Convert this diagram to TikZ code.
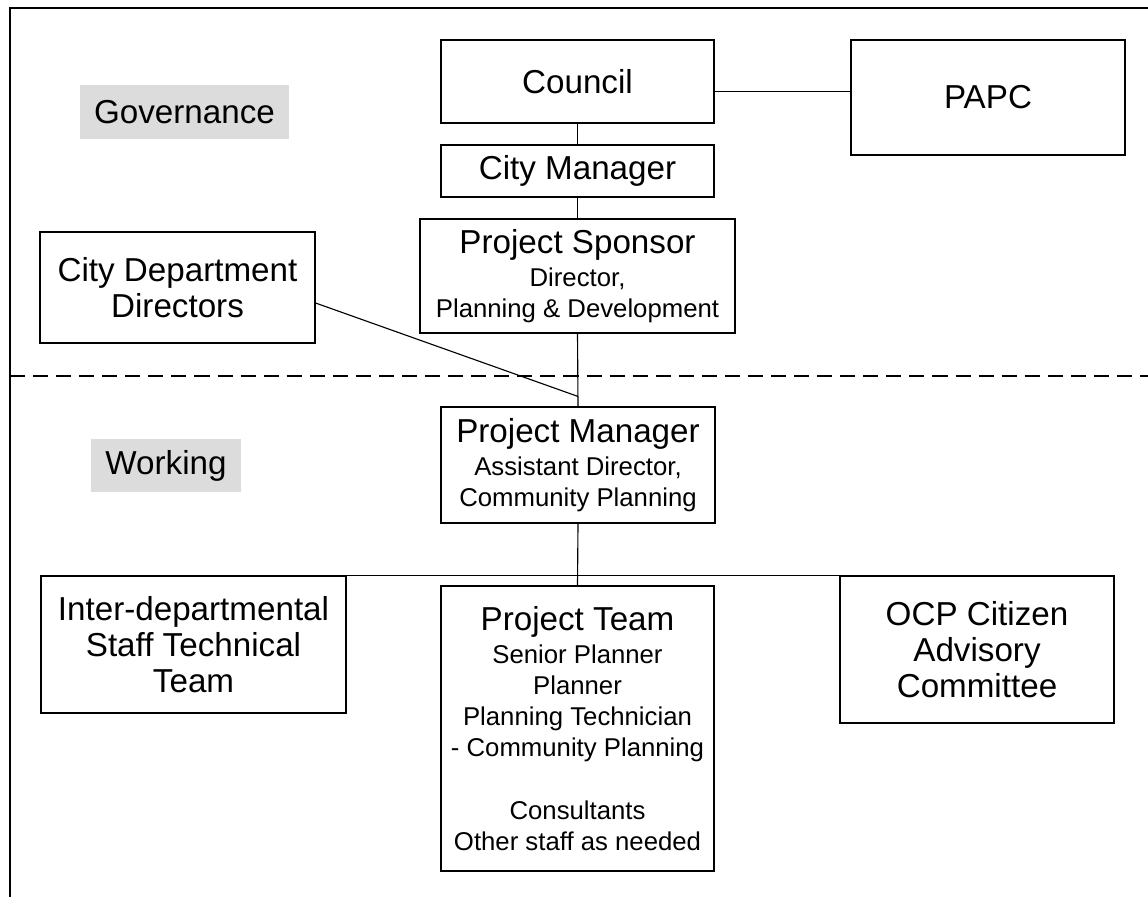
\documentclass[tikz,border=0pt]{standalone}
\usepackage{fontspec}
\setmainfont{Liberation Sans}
\usetikzlibrary{calc}
\definecolor{tagfill}{RGB}{220,220,220}
\newcommand\bigtxt{\fontsize{23.6}{25.5}\selectfont}
\newcommand\smalltxt{\fontsize{18.3}{22}\selectfont}
\tikzset{
	orgbox/.style 2 args={draw, line width=0.8pt, inner sep=0pt, align=center, font=\bigtxt,
		minimum width=#1*0.025cm, minimum height=#2*0.025cm},
	rolebox/.style 2 args={orgbox={#1}{#2}, font=\smalltxt},
	tag/.style 2 args={fill=tagfill, inner sep=0pt, font=\bigtxt,
		minimum width=#1*0.025cm, minimum height=#2*0.025cm},
	link/.style={line width=0.8pt}
}

\begin{document}
\begin{tikzpicture}[x=0.025cm, y=-0.025cm]
		%%%%% START %%%%%
		\useasboundingbox (0, 0) rectangle (1148, 896);
		
		\draw[line width=0.8pt] (10, 8) rectangle (1170, 920);
		\draw[link, dash pattern=on 10.7pt off 5.7pt] (10, 376) -- (1148, 376);
		
		\node[tag={209}{54}] (gov) at (184.5, 112) {Governance};
		\node[tag={150}{53}] (work) at (166, 465.5) {Working};
		
		\node[orgbox={273}{83}] (council) at (577.5, 81.5) {Council};
		\node[orgbox={274}{115}] (papc) at (988, 97.5) {PAPC};
		\node[orgbox={273}{52}] (cityman) at (577.5, 171) {City Manager};
		\node[rolebox={315}{114}] (sponsor) at (577.5, 276)
			{{\bigtxt Project Sponsor}\\[1.5pt] Director,\\ Planning \& Development};
		\node[orgbox={275}{111}] (cdd) at (177.5, 287.5) {City Department\\ Directors};
		
		\node[rolebox={274}{116}] (pm) at (578, 465)
			{{\bigtxt Project Manager}\\[1.5pt] Assistant Director,\\ Community Planning};
		\node[orgbox={305}{137}] (idst) at (193.5, 644.5)
			{Inter-departmental\\ Staff Technical\\ Team};
		\node[rolebox={273}{285}] (team) at (577.5, 728.5)
			{{\bigtxt Project Team}\\[1.5pt] Senior Planner\\ Planner\\ Planning Technician\\
			 - Community Planning\\[23pt] Consultants\\ Other staff as needed};
		\node[orgbox={274}{147}] (ocp) at (977, 649.5) {OCP Citizen\\ Advisory\\ Committee};
		
		% governance links
		\coordinate (cp) at ($(council.east)+(0, 10)$);
		\draw[link] (cp) -- (cp -| papc.west);
		\draw[link] (council.south) -- (cityman.north);
		\draw[link] (cityman.south) -- (sponsor.north);
		\draw[link] (sponsor.south) -- (pm.north);
		\coordinate (jn) at ($(pm.north)+(0, -10)$);
		\draw[link] ($(cdd.east)+(0, 15.5)$) -- (jn);
		
		% working links
		\draw[link] (pm.south) -- (team.north);
		\draw[link] ($(idst.north east)+(-33, 0)$) -- (ocp.north west);
		
		%%%%% END %%%%%
	\end{tikzpicture}
\end{document}
